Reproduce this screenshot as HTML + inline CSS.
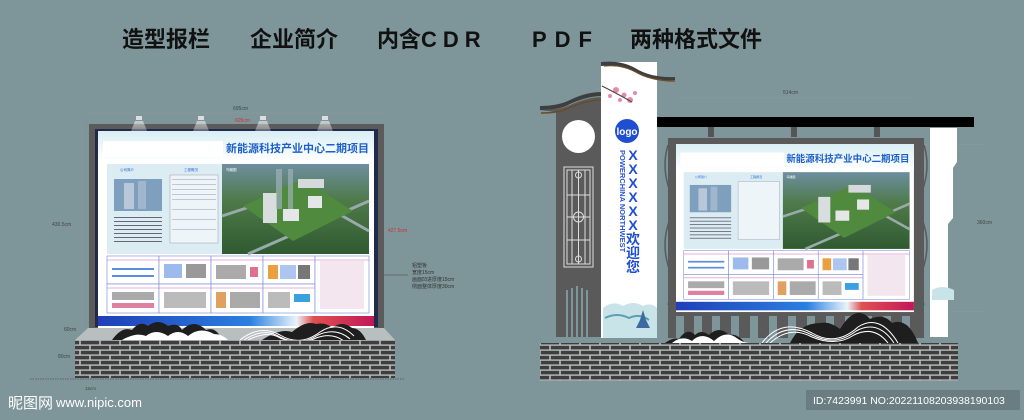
<!DOCTYPE html>
<html><head><meta charset="utf-8">
<style>
html,body{margin:0;padding:0;background:#7e959a;}
body{width:1024px;height:420px;overflow:hidden;position:relative;font-family:"Liberation Sans","Noto Sans CJK SC",sans-serif;}
svg{position:absolute;left:0;top:0;}
</style></head>
<body>
<svg width="1024" height="420" viewBox="0 0 1024 420" xmlns="http://www.w3.org/2000/svg" font-family="Liberation Sans, Noto Sans CJK SC, sans-serif">
<defs>
<pattern id="brick" width="20" height="10" patternUnits="userSpaceOnUse">
<rect width="20" height="10" fill="#b9bcbc"/>
<rect x="0.8" y="0.8" width="18.4" height="3.6" fill="#3e3e3e"/>
<rect x="-9.2" y="5.8" width="18.4" height="3.6" fill="#3e3e3e"/>
<rect x="10.8" y="5.8" width="18.4" height="3.6" fill="#3e3e3e"/>
</pattern>
<linearGradient id="bar" x1="0" x2="1"><stop offset="0" stop-color="#1f3fb8"/><stop offset="0.55" stop-color="#2a7fe0"/><stop offset="0.72" stop-color="#e8f4fb"/><stop offset="0.78" stop-color="#e05050"/><stop offset="1" stop-color="#c0185a"/></linearGradient>
<linearGradient id="top" x1="0" y1="0" x2="0" y2="1"><stop offset="0" stop-color="#d8eef4"/><stop offset="1" stop-color="#ffffff"/></linearGradient>
<linearGradient id="aer" x1="0" y1="0" x2="0" y2="1"><stop offset="0" stop-color="#6d8fa0"/><stop offset="0.4" stop-color="#4f7a4a"/><stop offset="1" stop-color="#2f5a30"/></linearGradient>
<linearGradient id="beam" x1="0" y1="0" x2="0" y2="1"><stop offset="0" stop-color="#ffffff" stop-opacity="0.55"/><stop offset="1" stop-color="#ffffff" stop-opacity="0"/></linearGradient>
</defs>

<!-- Title -->
<g font-size="22" font-weight="bold" fill="#111">
<text x="122" y="47">造型报栏</text>
<text x="250" y="47">企业简介</text>
<text x="377" y="47">内含</text>
<text x="421" y="47" letter-spacing="6">CDR</text>
<text x="532" y="47" letter-spacing="8">PDF</text>
<text x="630" y="47">两种格式文件</text>
</g>

<!-- ===== LEFT SIGN ===== -->
<g stroke="#8c9c9f" stroke-width="0.5" fill="none">
<line x1="88" y1="113" x2="383" y2="113"/>
<line x1="82" y1="124" x2="82" y2="378"/>
</g>
<text x="233" y="110" font-size="5" fill="#444">695cm</text>
<text x="235" y="122" font-size="5" fill="#c33">605cm</text>
<text x="52" y="226" font-size="5" fill="#444">430.5cm</text>
<text x="388" y="232" font-size="5" fill="#c33">427.5cm</text>
<text x="64" y="331" font-size="5" fill="#444">60cm</text>
<text x="58" y="358" font-size="5" fill="#444">80cm</text>
<text x="85" y="390" font-size="4.5" fill="#444">15cm</text>
<g font-size="5" fill="#333">
<text x="412" y="267">铝塑板</text>
<text x="412" y="274">宽度15cm</text>
<text x="412" y="281">画面凹进厚度15cm</text>
<text x="412" y="288">侧面整体厚度30cm</text>
</g>
<line x1="380" y1="275" x2="408" y2="275" stroke="#444" stroke-width="0.5"/>

<rect x="89" y="124" width="295" height="207" fill="#5b5b5b"/>
<rect x="95" y="129" width="283" height="198" fill="#222a4a"/>
<g fill="#ddd">
<rect x="136" y="116" width="6" height="4"/><rect x="198" y="116" width="6" height="4"/><rect x="260" y="116" width="6" height="4"/><rect x="322" y="116" width="6" height="4"/>
</g>
<g fill="url(#beam)">
<path d="M135 121 h8 l8 20 h-24z"/><path d="M197 121 h8 l8 20 h-24z"/><path d="M259 121 h8 l8 20 h-24z"/><path d="M321 121 h8 l8 20 h-24z"/>
</g>

<g transform="translate(98,131)">
<rect width="276" height="197" fill="#fff"/>
<rect width="276" height="30" fill="url(#top)"/>
<rect x="5" y="10" width="120" height="16" fill="#fff"/>
<text x="128" y="21" font-size="11" font-weight="bold" fill="#1d5fc9">新能源科技产业中心二期项目</text>
<rect x="9" y="33" width="115" height="90" fill="#dcecf3"/>
<rect x="16" y="48" width="48" height="32" fill="#7f9fbe"/>
<rect x="26" y="52" width="10" height="26" fill="#b8c8d8"/><rect x="40" y="50" width="8" height="28" fill="#9fb6cc"/>
<g fill="#667"><rect x="16" y="86" width="48" height="1"/><rect x="16" y="90" width="48" height="1"/><rect x="16" y="94" width="48" height="1"/><rect x="16" y="98" width="48" height="1"/><rect x="16" y="102" width="48" height="1"/><rect x="16" y="106" width="48" height="1"/><rect x="16" y="110" width="48" height="1"/></g>
<rect x="72" y="44" width="48" height="68" fill="#eef5f8" stroke="#889" stroke-width="0.4"/>
<g fill="#99a"><rect x="74" y="48" width="44" height="0.5"/><rect x="74" y="53" width="44" height="0.5"/><rect x="74" y="58" width="44" height="0.5"/><rect x="74" y="63" width="44" height="0.5"/><rect x="74" y="68" width="44" height="0.5"/><rect x="74" y="78" width="44" height="0.5"/><rect x="74" y="88" width="44" height="0.5"/><rect x="74" y="98" width="44" height="0.5"/></g>
<text x="22" y="40" font-size="3.5" fill="#2a6bd0">公司简介</text>
<text x="86" y="40" font-size="3.5" fill="#2a6bd0">工程概况</text>
<rect x="124" y="33" width="147" height="90" fill="url(#aer)"/>
<path d="M124 85 L200 60 L271 100" stroke="#9aa" stroke-width="3" fill="none"/>
<path d="M150 123 L271 70" stroke="#9aa" stroke-width="3" fill="none"/>
<polygon points="145,75 205,48 255,80 195,110" fill="#4f8a3e"/>
<rect x="165" y="62" width="14" height="30" fill="#d8dde0"/><rect x="185" y="78" width="16" height="12" fill="#e4e6e8"/><rect x="210" y="65" width="14" height="12" fill="#e4e6e8"/><rect x="200" y="48" width="26" height="9" fill="#d5d9dc"/>
<rect x="178" y="38" width="6" height="40" fill="#9fb0bb" opacity="0.7"/><rect x="190" y="38" width="5" height="40" fill="#9fb0bb" opacity="0.7"/>
<text x="128" y="40" font-size="3.5" fill="#fff">鸟瞰图</text>
<g fill="#fff" stroke="#6f86dd" stroke-width="0.6">
<rect x="9" y="125" width="52" height="28"/><rect x="61" y="125" width="52" height="28"/><rect x="113" y="125" width="52" height="28"/><rect x="165" y="125" width="52" height="28"/>
<rect x="9" y="153" width="52" height="29"/><rect x="61" y="153" width="52" height="29"/><rect x="113" y="153" width="52" height="29"/><rect x="165" y="153" width="52" height="29"/>
<rect x="217" y="125" width="54" height="57"/>
</g>
<g stroke="#d065a8" stroke-width="0.6"><line x1="9" y1="129" x2="271" y2="129"/><line x1="9" y1="157" x2="217" y2="157"/></g>
<g fill="#5a8de0">
<rect x="14" y="137" width="42" height="2"/><rect x="14" y="144" width="42" height="2"/>
<rect x="66" y="133" width="18" height="14" opacity="0.6"/><rect x="88" y="133" width="20" height="14" fill="#999"/>
<rect x="118" y="134" width="30" height="14" fill="#aaa"/><rect x="152" y="136" width="8" height="10" fill="#e07090"/>
<rect x="170" y="134" width="10" height="14" fill="#e8a040"/><rect x="182" y="134" width="16" height="14" opacity="0.5"/><rect x="200" y="134" width="12" height="14" fill="#777"/>
<rect x="14" y="161" width="42" height="8" fill="#aaa"/><rect x="14" y="172" width="42" height="5" fill="#e080a0"/>
<rect x="66" y="161" width="42" height="16" fill="#bbb"/>
<rect x="118" y="161" width="10" height="16" fill="#e0a060"/><rect x="132" y="161" width="30" height="16" fill="#aaa"/>
<rect x="170" y="161" width="22" height="16" fill="#bbb"/><rect x="196" y="163" width="16" height="8" fill="#3aa0e0"/>
<rect x="222" y="130" width="44" height="48" fill="#f3e6ee"/>
</g>
<rect x="0" y="185" width="276" height="10" fill="url(#bar)"/>
</g>

<polygon points="75,340 88,328 384,328 395,340" fill="#b9bebe"/>
<path d="M112 340 q10 -14 20 -10 q8 -10 16 -4 q10 -8 20 0 q10 -4 14 4 q12 -12 24 0 q10 -4 16 10z" fill="#1e1e1e"/>
<path d="M122 340 q14 -8 24 -4 q10 -8 22 0 q10 -8 20 0 q12 -10 26 -2 q8 0 14 6z" fill="#fff"/>
<path d="M262 340 q18 -12 30 -8 q14 -12 24 -8 q10 -2 16 4 q10 -8 20 0 q8 0 14 12z" fill="#1e1e1e"/>
<g fill="none" stroke="#fff" stroke-width="1">
<path d="M240 340 q20 -16 40 -5 q20 12 40 -3 q18 -12 34 4"/>
<path d="M244 340 q20 -13 36 -3 q20 10 38 -2 q18 -8 32 4"/>
<path d="M248 340 q20 -10 32 -2 q20 8 36 0 q16 -6 28 3"/>
</g>
<rect x="75" y="340" width="320" height="38" fill="url(#brick)"/>
<line x1="30" y1="379" x2="405" y2="379" stroke="#555" stroke-width="0.8" stroke-dasharray="1.5 1"/>

<!-- ===== RIGHT SIGN ===== -->
<text x="783" y="94" font-size="5" fill="#444">514cm</text>
<rect x="676" y="97" width="238" height="0.5" fill="#8a9a9d"/>
<text x="977" y="224" font-size="5" fill="#444">360cm</text>
<rect x="914" y="144" width="73" height="0.5" fill="#8a9a9d"/>
<rect x="914" y="311" width="73" height="0.5" fill="#8a9a9d"/>

<path d="M540 110 q20 0 30 -5 q18 -8 32 -8 v240 h-46 v-225 z" fill="#5a5a5a"/>
<path d="M540 110 q20 0 30 -6 q18 -8 32 -8 v-4 q-16 0 -32 8 q-12 6 -30 6z" fill="#3e3e3e"/>
<path d="M541 113 q20 0 30 -6 q16 -7 31 -7" stroke="#6a4a2a" stroke-width="1.5" fill="none"/>
<circle cx="578.5" cy="136.5" r="16.5" fill="#fff"/>
<g fill="none" stroke="#ddd" stroke-width="1">
<rect x="564" y="167" width="29" height="100"/>
<rect x="567" y="170" width="23" height="94"/>
<line x1="578.5" y1="170" x2="578.5" y2="264"/>
<line x1="567" y1="195" x2="590" y2="195"/><line x1="567" y1="217" x2="590" y2="217"/><line x1="567" y1="240" x2="590" y2="240"/>
<line x1="572" y1="170" x2="572" y2="264"/><line x1="585" y1="170" x2="585" y2="264"/>
<circle cx="578.5" cy="217" r="5"/><circle cx="578.5" cy="175" r="3"/><circle cx="578.5" cy="259" r="3"/>
</g>
<g fill="#7e959a"><rect x="566" y="290" width="2" height="47"/><rect x="571" y="288" width="2" height="49"/><rect x="576" y="286" width="2" height="51"/><rect x="581" y="288" width="2" height="49"/><rect x="586" y="290" width="2" height="47"/></g>

<rect x="601" y="62" width="56" height="276" fill="#fff"/>
<path d="M601 62 q20 -2 34 6 q16 10 40 9 v3 q-24 2 -40 -8 q-16 -8 -34 -6z" fill="#3e3e3e"/>
<path d="M604 66 q18 -2 32 6 q16 9 39 9" stroke="#6a4a2a" stroke-width="1.3" fill="none"/>
<g fill="#e08ab4"><circle cx="616" cy="90" r="3"/><circle cx="624" cy="95" r="2.5"/><circle cx="630" cy="100" r="3"/><circle cx="620" cy="100" r="2"/><circle cx="610" cy="96" r="2"/><circle cx="635" cy="93" r="2"/></g>
<path d="M602 86 q12 6 30 16" stroke="#5a3a2a" stroke-width="1" fill="none"/>
<circle cx="627" cy="131" r="12" fill="#1f4fcf"/>
<text x="627" y="135" font-size="10" font-weight="bold" fill="#fff" text-anchor="middle">logo</text>
<text transform="translate(620,150) rotate(90)" font-size="7.5" font-weight="bold" fill="#2a55d0">POWERCHINA NORTHWEST</text>
<g font-size="14" font-weight="bold" fill="#1f4fcf" text-anchor="middle">
<text x="633" y="160">X</text><text x="633" y="174">X</text><text x="633" y="188">X</text><text x="633" y="202">X</text><text x="633" y="216">X</text><text x="633" y="230">X</text>
<text x="633" y="244">欢</text><text x="633" y="258">迎</text><text x="633" y="272">您</text>
</g>
<path d="M603 308 q10 -8 20 -2 q10 -6 20 0 q8 -4 14 2 v30 h-54z" fill="#c9e4e8"/>
<path d="M605 318 q12 -6 24 0 q10 -5 20 2" stroke="#5aa0b0" stroke-width="2" fill="none"/>
<path d="M640 320 l3 -10 l3 10 l4 8 h-14z" fill="#3d6aa0"/>

<rect x="657" y="117" width="317" height="10" fill="#000"/>
<rect x="708" y="127" width="6" height="10" fill="#555"/><rect x="791" y="127" width="6" height="10" fill="#555"/><rect x="874" y="127" width="6" height="10" fill="#555"/>
<path d="M930 128 h27 v34 l-4 6 v50 l-5 6 v113 h-18z" fill="#fff"/>
<path d="M932 290 q10 -6 22 0 v10 h-22z" fill="#c9e4e8"/>

<rect x="668" y="138" width="256" height="200" fill="#5a5a5a"/>
<g fill="#7e959a">
<rect x="676" y="316" width="8" height="22"/><rect x="694" y="316" width="8" height="22"/><rect x="712" y="316" width="8" height="22"/><rect x="731" y="316" width="8" height="22"/><rect x="750" y="316" width="8" height="22"/><rect x="769" y="316" width="8" height="22"/><rect x="788" y="316" width="8" height="22"/><rect x="807" y="316" width="8" height="22"/><rect x="826" y="316" width="8" height="22"/><rect x="845" y="316" width="8" height="22"/><rect x="864" y="316" width="8" height="22"/><rect x="883" y="316" width="8" height="22"/><rect x="902" y="316" width="8" height="22"/>
</g>
<g transform="translate(676,144) scale(0.862,0.853)">
<rect width="276" height="197" fill="#fff"/>
<rect width="276" height="30" fill="url(#top)"/>
<rect x="5" y="10" width="120" height="16" fill="#fff"/>
<text x="128" y="21" font-size="11" font-weight="bold" fill="#1d5fc9">新能源科技产业中心二期项目</text>
<rect x="9" y="33" width="115" height="90" fill="#dcecf3"/>
<rect x="16" y="48" width="48" height="32" fill="#7f9fbe"/>
<rect x="26" y="52" width="10" height="26" fill="#b8c8d8"/><rect x="40" y="50" width="8" height="28" fill="#9fb6cc"/>
<g fill="#667"><rect x="16" y="86" width="48" height="1"/><rect x="16" y="90" width="48" height="1"/><rect x="16" y="94" width="48" height="1"/><rect x="16" y="98" width="48" height="1"/><rect x="16" y="102" width="48" height="1"/><rect x="16" y="106" width="48" height="1"/><rect x="16" y="110" width="48" height="1"/></g>
<rect x="72" y="44" width="48" height="68" fill="#eef5f8" stroke="#889" stroke-width="0.4"/>
<text x="22" y="40" font-size="3.5" fill="#2a6bd0">公司简介</text>
<text x="86" y="40" font-size="3.5" fill="#2a6bd0">工程概况</text>
<rect x="124" y="33" width="147" height="90" fill="url(#aer)"/>
<path d="M124 85 L200 60 L271 100" stroke="#9aa" stroke-width="3" fill="none"/>
<path d="M150 123 L271 70" stroke="#9aa" stroke-width="3" fill="none"/>
<polygon points="145,75 205,48 255,80 195,110" fill="#4f8a3e"/>
<rect x="165" y="62" width="14" height="30" fill="#d8dde0"/><rect x="185" y="78" width="16" height="12" fill="#e4e6e8"/><rect x="210" y="65" width="14" height="12" fill="#e4e6e8"/><rect x="200" y="48" width="26" height="9" fill="#d5d9dc"/>
<text x="128" y="40" font-size="3.5" fill="#fff">鸟瞰图</text>
<g fill="#fff" stroke="#6f86dd" stroke-width="0.6">
<rect x="9" y="125" width="52" height="28"/><rect x="61" y="125" width="52" height="28"/><rect x="113" y="125" width="52" height="28"/><rect x="165" y="125" width="52" height="28"/>
<rect x="9" y="153" width="52" height="29"/><rect x="61" y="153" width="52" height="29"/><rect x="113" y="153" width="52" height="29"/><rect x="165" y="153" width="52" height="29"/>
<rect x="217" y="125" width="54" height="57"/>
</g>
<g stroke="#d065a8" stroke-width="0.6"><line x1="9" y1="129" x2="271" y2="129"/><line x1="9" y1="157" x2="217" y2="157"/></g>
<g fill="#5a8de0">
<rect x="14" y="137" width="42" height="2"/><rect x="14" y="144" width="42" height="2"/>
<rect x="66" y="133" width="18" height="14" opacity="0.6"/><rect x="88" y="133" width="20" height="14" fill="#999"/>
<rect x="118" y="134" width="30" height="14" fill="#aaa"/><rect x="152" y="136" width="8" height="10" fill="#e07090"/>
<rect x="170" y="134" width="10" height="14" fill="#e8a040"/><rect x="182" y="134" width="16" height="14" opacity="0.5"/><rect x="200" y="134" width="12" height="14" fill="#777"/>
<rect x="14" y="161" width="42" height="8" fill="#aaa"/><rect x="14" y="172" width="42" height="5" fill="#e080a0"/>
<rect x="66" y="161" width="42" height="16" fill="#bbb"/>
<rect x="118" y="161" width="10" height="16" fill="#e0a060"/><rect x="132" y="161" width="30" height="16" fill="#aaa"/>
<rect x="170" y="161" width="22" height="16" fill="#bbb"/><rect x="196" y="163" width="16" height="8" fill="#3aa0e0"/>
<rect x="222" y="130" width="44" height="48" fill="#f3e6ee"/>
</g>
<rect x="0" y="185" width="276" height="10" fill="url(#bar)"/>
</g>
<g fill="none" stroke="#5a5a5a" stroke-width="1.5"><path d="M668 145 q-6 20 0 40 q6 20 0 40 q-6 20 0 40 q6 20 0 40"/><path d="M924 145 q6 20 0 40 q-6 20 0 40 q6 20 0 40 q-6 20 0 40"/></g>

<path d="M665 343 q8 -6 14 -4 q8 -12 16 -4 q6 -6 14 0 q10 -10 20 0 q8 -2 16 8z" fill="#1e1e1e"/>
<path d="M672 343 q10 -8 20 -2 q10 -10 22 0 q12 -12 24 -2 q6 4 12 4z" fill="#fff"/>
<path d="M790 343 q10 -20 30 -20 q10 -2 20 6 q16 -26 30 -10 q14 -6 22 4 q16 -6 26 20z" fill="#1e1e1e"/>
<g fill="none" stroke="#fff" stroke-width="1">
<path d="M762 343 q20 -26 50 -10 q24 14 46 -6 q22 -14 40 16"/>
<path d="M766 343 q20 -22 46 -8 q24 12 44 -4 q22 -12 38 12"/>
<path d="M770 343 q20 -18 42 -6 q24 10 42 -2 q20 -10 34 8"/>
</g>
<rect x="540" y="343" width="418" height="38" fill="url(#brick)"/>

<text x="8" y="408" font-size="15" fill="#fff">昵图网</text>
<text x="56" y="407" font-size="13" fill="#fff">www.nipic.com</text>
<rect x="806" y="390" width="214" height="20" fill="#6a7d82"/>
<text x="813" y="404" font-size="10.5" fill="#fff">ID:7423991 NO:20221108203938190103</text>
</svg>
</body></html>
